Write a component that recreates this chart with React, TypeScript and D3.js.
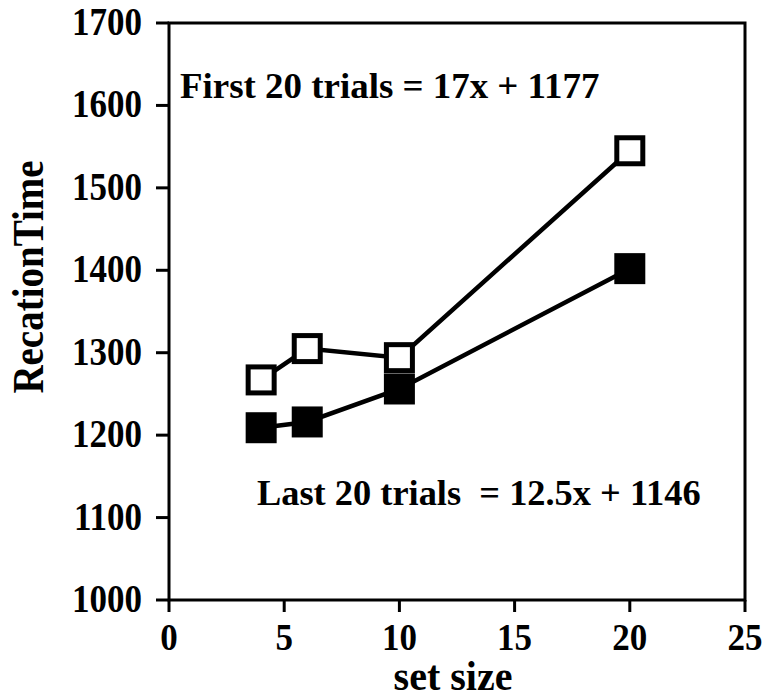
import React from "react";
import * as d3 from "d3";

const setSizes = [4, 6, 10, 20];
const firstTrials = [1267, 1305, 1294, 1545];
const lastTrials = [1209, 1216, 1256, 1402];
const xTicks = [0, 5, 10, 15, 20, 25];
const yTicks = [1000, 1100, 1200, 1300, 1400, 1500, 1600, 1700];
const firstLabel = "First 20 trials = 17x + 1177";
const lastLabel = "Last 20 trials  = 12.5x + 1146";
const xTitle = "set size";
const yTitle = "RecationTime";

const W = 762, H = 700;
const L = 169, R = 745, T = 23, B = 600;
const FONT = "'Liberation Serif', 'Times New Roman', serif";

function T2(props: { x: number; y: number; sx?: number; sy?: number; rot?: number; fs: number; anchor?: string; children: React.ReactNode }) {
  const { x, y, sx = 1, sy = 1, rot = 0, fs, anchor = "start", children } = props;
  return (
    <text
      transform={`translate(${x},${y}) rotate(${rot}) scale(${sx},${sy})`}
      fontSize={fs}
      textAnchor={anchor}
      style={{ whiteSpace: "pre" }}
    >
      {children}
    </text>
  );
}

export default function App() {
  const x = d3.scaleLinear().domain([0, 25]).range([L, R]);
  const y = d3.scaleLinear().domain([1000, 1700]).range([B, T]);
  const line = d3.line<number>().x((_, i) => x(setSizes[i])).y((d) => y(d));
  const SQ = 31;
  const SW = 5;
  return (
    <svg width={W} height={H} style={{ position: "absolute", left: 0, top: 0 }} fontFamily={FONT} fontWeight="bold">
      <rect x={0} y={0} width={W} height={H} fill="#fff" />
      <rect x={L} y={T} width={R - L} height={B - T} fill="none" stroke="#000" strokeWidth={3} />
      {yTicks.map((t) => (
        <g key={"y" + t}>
          <line x1={L - 13} x2={L} y1={y(t)} y2={y(t)} stroke="#000" strokeWidth={3} />
          <T2 x={142} y={y(t) + 12} fs={35} sy={1.16} anchor="end">{t}</T2>
        </g>
      ))}
      {xTicks.map((t) => (
        <g key={"x" + t}>
          <line x1={x(t)} x2={x(t)} y1={B} y2={B + 12} stroke="#000" strokeWidth={3} />
          <T2 x={x(t)} y={650} fs={35} sy={1.08} anchor="middle">{t}</T2>
        </g>
      ))}
      <T2 x={453} y={690} fs={40} sy={1.06} anchor="middle">{xTitle}</T2>
      <T2 x={43} y={277} rot={-90} fs={39} sy={1.13} anchor="middle">{yTitle}</T2>
      <path d={line(firstTrials) || ""} fill="none" stroke="#000" strokeWidth={4.5} />
      <path d={line(lastTrials) || ""} fill="none" stroke="#000" strokeWidth={4.5} />
      {lastTrials.map((v, i) => (
        <rect key={"l" + i} x={x(setSizes[i]) - SQ / 2} y={y(v) - SQ / 2} width={SQ} height={SQ} fill="#000" />
      ))}
      {firstTrials.map((v, i) => (
        <rect key={"f" + i} x={x(setSizes[i]) - (SQ - SW) / 2} y={y(v) - (SQ - SW) / 2} width={SQ - SW} height={SQ - SW} fill="#fff" stroke="#000" strokeWidth={SW} />
      ))}
      <T2 x={180} y={98} fs={35} sx={1.055}>{firstLabel}</T2>
      <T2 x={257} y={505} fs={35} sx={1.04}>{lastLabel}</T2>
    </svg>
  );
}
